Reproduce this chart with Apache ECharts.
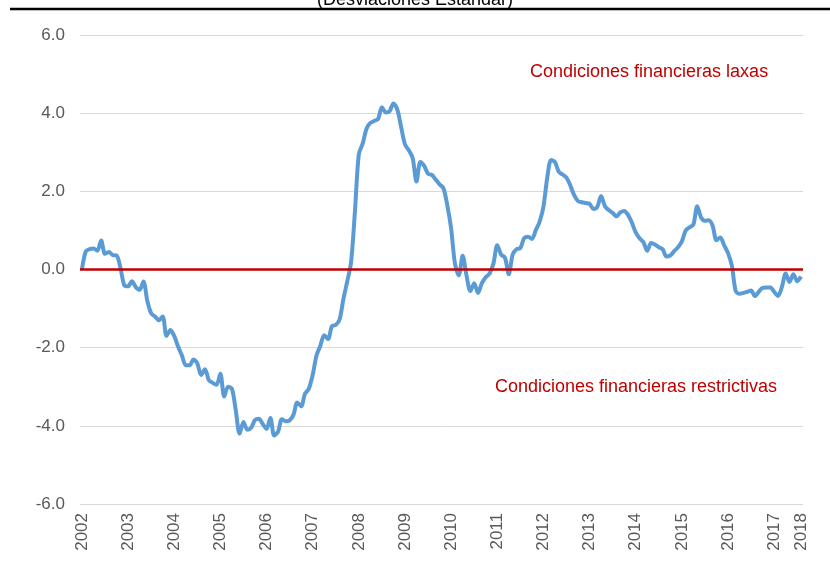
<!DOCTYPE html>
<html>
<head>
<meta charset="utf-8">
<script src="https://cdn.jsdelivr.net/npm/echarts@6/dist/echarts.min.js"></script>
<style>
html,body{margin:0;padding:0;background:#fff;}
#chart{width:830px;height:575px;}
</style>
</head>
<body>
<div id="chart"></div>
<script>
// Monthly observations, Jan 2002 .. Aug 2017
var startYear = 2002;
var indexValues = [
  0.00, 0.46, 0.52, 0.54, 0.48, 0.74, 0.40, 0.45, 0.37, 0.36, 0.05, -0.40,
  -0.43, -0.30, -0.45, -0.52, -0.31, -0.80, -1.12, -1.20, -1.30, -1.20, -1.70, -1.55,
  -1.70, -1.97, -2.20, -2.45, -2.45, -2.30, -2.40, -2.70, -2.55, -2.83, -2.90, -2.95,
  -2.67, -3.25, -3.00, -3.05, -3.60, -4.20, -3.90, -4.10, -4.05, -3.85, -3.82, -3.95,
  -4.08, -3.80, -4.25, -4.15, -3.83, -3.88, -3.86, -3.72, -3.40, -3.50, -3.18, -3.05,
  -2.70, -2.20, -1.95, -1.68, -1.78, -1.45, -1.42, -1.28, -0.75, -0.30, 0.20, 1.50,
  2.95, 3.22, 3.60, 3.75, 3.80, 3.85, 4.15, 4.02, 4.05, 4.25, 4.10, 3.65,
  3.20, 3.05, 2.85, 2.25, 2.75, 2.65, 2.45, 2.42, 2.30, 2.18, 2.08, 1.65,
  1.05, 0.15, -0.15, 0.35, -0.15, -0.55, -0.35, -0.60, -0.35, -0.20, -0.10, 0.15,
  0.62, 0.38, 0.30, -0.12, 0.38, 0.52, 0.55, 0.80, 0.84, 0.78, 1.00, 1.22,
  1.60, 2.35, 2.80, 2.75, 2.50, 2.43, 2.35, 2.15, 1.90, 1.75, 1.72, 1.70,
  1.68, 1.55, 1.60, 1.88, 1.62, 1.52, 1.45, 1.36, 1.46, 1.50, 1.40, 1.20,
  0.95, 0.80, 0.70, 0.48, 0.68, 0.64, 0.57, 0.52, 0.33, 0.36, 0.47, 0.57,
  0.72, 1.00, 1.08, 1.15, 1.62, 1.33, 1.25, 1.26, 1.12, 0.75, 0.82, 0.62,
  0.42, 0.10, -0.55, -0.62, -0.60, -0.57, -0.54, -0.68, -0.57, -0.47, -0.46, -0.46,
  -0.57, -0.68, -0.45, -0.10, -0.32, -0.12, -0.30, -0.18
];
var xTickLabels = ['2002','2003','2004','2005','2006','2007','2008','2009','2010',
  '2011','2012','2013','2014','2015','2016','2017','2018'];
var yTicks = [-6, -4, -2, 0, 2, 4, 6];
var titleText = '(Desviaciones Estándar)';
var noteLoose = 'Condiciones financieras laxas';
var noteTight = 'Condiciones financieras restrictivas';

var months = [];
for (var i = 0; i < indexValues.length; i++) {
  var y = startYear + Math.floor(i / 12);
  var m = (i % 12) + 1;
  months.push(y + '-' + (m < 10 ? '0' + m : m));
}
var lastIdx = months.length - 1;
function labelFor(idx) {
  if (idx === lastIdx) return xTickLabels[xTickLabels.length - 1];
  if (idx % 12 === 0) return xTickLabels[idx / 12];
  return '';
}

var chart = echarts.init(document.getElementById('chart'), null, {renderer: 'canvas'});
var font = 'Liberation Sans, Arial, sans-serif';
chart.setOption({
  animation: false,
  backgroundColor: '#ffffff',
  grid: {left: 80, right: 27, top: 35, bottom: 71, containLabel: false},
  xAxis: {
    type: 'category',
    data: months,
    boundaryGap: true,
    axisLine: {show: false},
    axisTick: {show: false},
    axisLabel: {
      rotate: 90,
      margin: 9,
      color: '#595959',
      fontFamily: font,
      fontSize: 17,
      interval: function (idx) { return labelFor(idx) !== ''; },
      formatter: function (v, idx) { return labelFor(idx); }
    },
    splitLine: {show: false}
  },
  yAxis: {
    type: 'value',
    min: yTicks[0],
    max: yTicks[yTicks.length - 1],
    interval: 2,
    axisLine: {show: false},
    axisTick: {show: false},
    axisLabel: {
      margin: 15,
      color: '#595959',
      fontFamily: font,
      fontSize: 17,
      formatter: function (v) { return v.toFixed(1); }
    },
    splitLine: {lineStyle: {color: '#d9d9d9', width: 1}}
  },
  series: [{
    type: 'line',
    data: indexValues,
    smooth: 0.3,
    symbol: 'none',
    lineStyle: {color: '#5B9BD5', width: 4},
    z: 2,
    markLine: {
      silent: true,
      symbol: 'none',
      label: {show: false},
      lineStyle: {color: '#C00000', width: 2.5, type: 'solid'},
      data: [{yAxis: 0}],
      z: 3
    }
  }],
  graphic: [
    {type: 'line', shape: {x1: 10, y1: 9, x2: 830, y2: 9},
     style: {stroke: '#000000', lineWidth: 2.5}, silent: true},
    {type: 'text', left: 'center', top: -9,
     style: {text: titleText, fill: '#000000', font: '18px ' + font}},
    {type: 'text', x: 530, y: 72,
     style: {text: noteLoose, fill: '#C00000', font: '18px ' + font, textVerticalAlign: 'middle', verticalAlign: 'middle'}},
    {type: 'text', x: 495, y: 387,
     style: {text: noteTight, fill: '#C00000', font: '18px ' + font, textVerticalAlign: 'middle', verticalAlign: 'middle'}}
  ]
});
</script>
</body>
</html>
